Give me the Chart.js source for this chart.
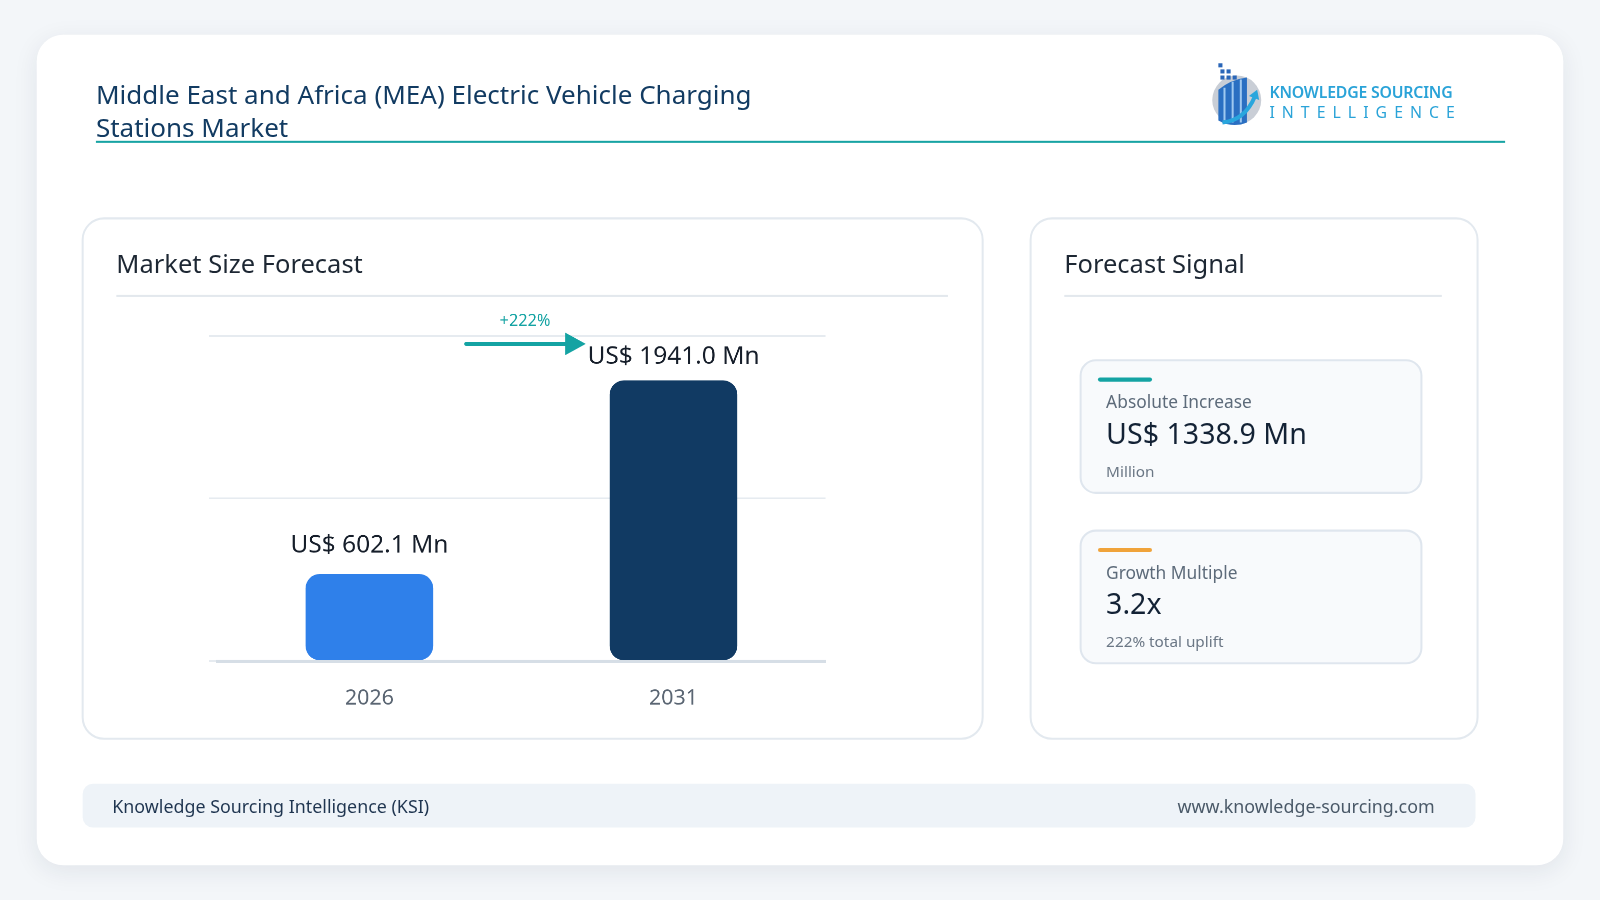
<!DOCTYPE html>
<html><head><meta charset="utf-8">
<script src="https://cdn.jsdelivr.net/npm/chart.js@4.4.0/dist/chart.umd.min.js"></script>
<style>
html,body{margin:0;width:1600px;height:900px;background:#f3f6f9;overflow:hidden}
#w{position:absolute;left:0;top:0;width:1568px;height:882px;transform:scale(1.020408);transform-origin:0 0;font-family:"Noto Sans",sans-serif}
.card{position:absolute;left:36px;top:34px;width:1496px;height:814px;background:#fff;border-radius:26px;box-shadow:0 6px 24px rgba(20,40,70,0.08)}
.abs{position:absolute}
.title{left:94px;font-size:25.5px;line-height:30px;color:#123b62;white-space:nowrap}
.hr{left:94px;top:138px;width:1381px;height:2px;background:#17a3a3}
.panel{border:2px solid #e3e9ef;border-radius:22px;background:#fff}
.ph{font-size:25px;color:#1d2733}
.sep{height:2px;background:#e3e8ed}
.box{border:2px solid #dfe6ee;border-radius:16px;background:#f8fafc}
.foot{left:81px;top:768px;width:1365px;height:43px;background:#eef3f8;border-radius:10px;font-size:17.5px;color:#1f3550}
</style></head><body><div id="w">
<div class="card"></div>
<div class="abs title" style="top:77px">Middle East and Africa (MEA) Electric Vehicle Charging</div>
<div class="abs title" style="top:109px">Stations Market</div>
<div class="abs hr"></div>
<svg class="abs" style="left:1186px;top:60px" width="56" height="66" viewBox="0 0 56 66">
<circle cx="26" cy="38" r="24" fill="#c9ced6"/>
<path d="M8 28 L8 58 Q22 66 36 60 L36 16 Q20 18 8 28Z" fill="#2a6fc2"/>
<path d="M14 26 v32 M22 20 v40 M30 18 v42" stroke="#9ec8f0" stroke-width="2"/>
<path d="M12 60 Q34 58 44 34" stroke="#29a6dd" stroke-width="4" fill="none"/>
<path d="M38 34 L46 28 L48 38Z" fill="#29a6dd"/>
<g fill="#2a66b8"><rect x="8" y="2" width="4" height="4"/><rect x="10" y="8" width="4" height="4"/><rect x="16" y="8" width="4" height="4"/><rect x="10" y="14" width="4" height="4"/><rect x="16" y="14" width="4" height="4"/><rect x="22" y="14" width="4" height="4"/></g>
</svg>
<div class="abs" style="left:1244px;top:80px;font-size:15.5px;line-height:20px;font-weight:600;color:#2aa3d8;letter-spacing:-0.2px">KNOWLEDGE SOURCING</div>
<div class="abs" style="left:1244px;top:100px;font-size:15.5px;line-height:20px;color:#2aa3d8;letter-spacing:6.9px">INTELLIGENCE</div>

<div class="abs panel" style="left:80px;top:213px;width:880px;height:508px"></div>
<div class="abs ph" style="left:114px;top:241px">Market Size Forecast</div>
<div class="abs sep" style="left:114px;top:289px;width:815px"></div>
<div class="abs" style="left:190px;top:300px;width:624px;height:423px"><canvas id="c"></canvas></div>

<div class="abs panel" style="left:1009px;top:213px;width:436px;height:508px"></div>
<div class="abs ph" style="left:1043px;top:241px">Forecast Signal</div>
<div class="abs sep" style="left:1043px;top:289px;width:370px"></div>

<div class="abs box" style="left:1058px;top:352px;width:332px;height:128px"></div>
<div class="abs" style="left:1076px;top:370px;width:53px;height:4px;background:#14a3a3;border-radius:2px"></div>
<div class="abs" style="left:1084px;top:382px;font-size:17px;color:#5d6b7a">Absolute Increase</div>
<div class="abs" style="left:1084px;top:405px;font-size:28px;color:#132235">US$ 1338.9 Mn</div>
<div class="abs" style="left:1084px;top:451px;font-size:15px;color:#6b7785">Million</div>

<div class="abs box" style="left:1058px;top:519px;width:332px;height:128px"></div>
<div class="abs" style="left:1076px;top:537px;width:53px;height:4px;background:#f0a33a;border-radius:2px"></div>
<div class="abs" style="left:1084px;top:549px;font-size:17px;color:#5d6b7a">Growth Multiple</div>
<div class="abs" style="left:1084px;top:572px;font-size:28px;color:#132235">3.2x</div>
<div class="abs" style="left:1084px;top:618px;font-size:15px;color:#6b7785">222% total uplift</div>

<div class="abs foot"><span class="abs" style="left:29px;top:10px">Knowledge Sourcing Intelligence (KSI)</span><span class="abs" style="right:40px;top:10px;color:#4a5968">www.knowledge-sourcing.com</span></div>
</div>
<script>
const categories=["2026","2031"];
const values=[602.1,1941.0];
const valueLabels=["US$ 602.1 Mn","US$ 1941.0 Mn"];
const growthLabel="+222%";
const colors=["#2f80ea","#113a63"];
const deco={id:'deco',afterDatasetsDraw(ch){
 const ctx=ch.ctx,m=ch.getDatasetMeta(0);
 ctx.save();ctx.font='24px "Noto Sans"';ctx.fillStyle='#161e2a';ctx.textAlign='center';ctx.textBaseline='bottom';
 m.data.forEach((b,i)=>ctx.fillText(valueLabels[i],b.x,b.y-(i==1?11:16)));
 const y=ch.scales.y.getPixelForValue(2250)+8;
 const x0=m.data[0].x+95,x1=m.data[1].x-88;
 ctx.strokeStyle='#14a3a3';ctx.fillStyle='#14a3a3';ctx.lineWidth=4;ctx.lineCap='round';
 ctx.beginPath();ctx.moveTo(x0,y);ctx.lineTo(x1-14,y);ctx.stroke();
 ctx.beginPath();ctx.moveTo(x1-18,y-11);ctx.lineTo(x1+2,y);ctx.lineTo(x1-18,y+11);ctx.closePath();ctx.fill();
 ctx.font='16px "Noto Sans"';ctx.textBaseline='bottom';ctx.fillText(growthLabel,(x0+x1)/2,y-14);
 ctx.restore();}};
new Chart(document.getElementById('c'),{type:'bar',
 data:{labels:categories,datasets:[{data:values,backgroundColor:colors,borderRadius:14,borderSkipped:false,barPercentage:0.42,categoryPercentage:1}]},
 options:{responsive:true,maintainAspectRatio:false,animation:false,devicePixelRatio:2,
  layout:{padding:{top:29,left:15,right:5,bottom:10}},
  plugins:{legend:{display:false},tooltip:{enabled:false}},
  scales:{x:{grid:{display:false},border:{color:'#d6dee6',width:3},ticks:{color:'#5b6673',font:{family:'Noto Sans',size:21},padding:16}},
   y:{min:0,max:2250,ticks:{display:false,stepSize:1125},border:{display:false},grid:{color:'#e6ebf0',lineWidth:1.5}}}},
 plugins:[deco]});
</script>
</body></html>
